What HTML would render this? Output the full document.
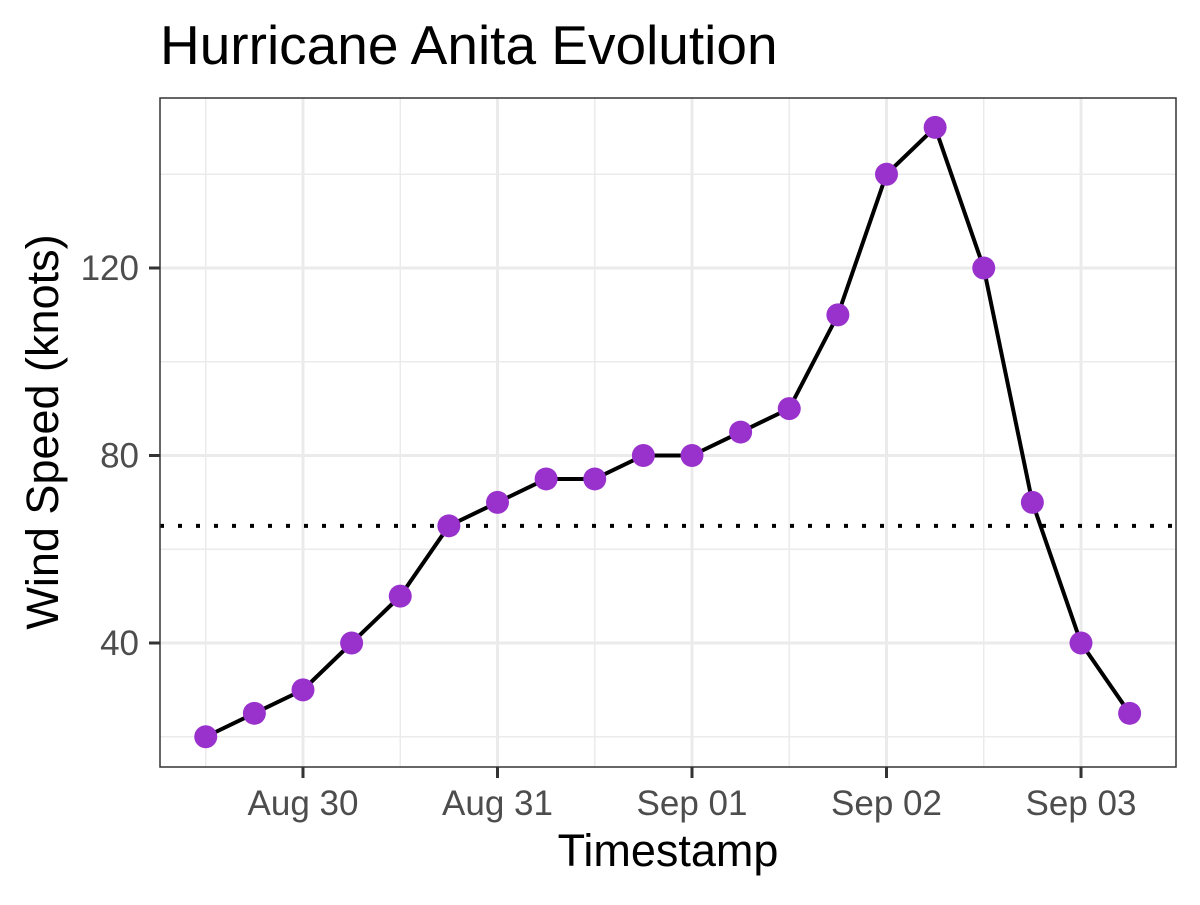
<!DOCTYPE html>
<html><head><meta charset="utf-8"><style>
body{margin:0;background:#fff;}
svg text{font-family:"Liberation Sans",Arial,sans-serif;}
</style></head><body>
<svg id="chart" width="1200" height="900" xmlns="http://www.w3.org/2000/svg">
<rect width="1200" height="900" fill="#fff"/>
<text x="160" y="64" font-size="55" fill="#000">Hurricane Anita Evolution</text>
<g id="grid"></g><g id="marks"></g><g id="axes"></g>
<text x="668" y="866" font-size="45" text-anchor="middle" fill="#000">Timestamp</text>
<text transform="translate(58,432) rotate(-90)" font-size="45" text-anchor="middle" fill="#000">Wind Speed (knots)</text>
</svg>
<script>
// hours since Aug 30 00:00, every 6h from Aug 29 12:00
const times=[-12,-6,0,6,12,18,24,30,36,42,48,54,60,66,72,78,84,90,96,102];
const speeds=[20,25,30,40,50,65,70,75,75,80,80,85,90,110,140,150,120,70,40,25];
const threshold=65;
const yTicks=[40,80,120];
const yMinor=[20,60,100,140];
const xTickHours=[0,24,48,72,96];
const xTickLabels=["Aug 30","Aug 31","Sep 01","Sep 02","Sep 03"];
const xMinorHours=[-12,12,36,60,84,108];

const L=160,R=1176,T=98,B=767;
const x=h=>303+h*(194.5/24);
const y=v=>643-(v-40)*4.6875;
const NS="http://www.w3.org/2000/svg";
function mk(tag,attrs,parent){const e=document.createElementNS(NS,tag);for(const k in attrs)e.setAttribute(k,attrs[k]);parent.appendChild(e);return e;}
const grid=document.getElementById('grid'),marks=document.getElementById('marks'),axes=document.getElementById('axes');
yMinor.forEach(v=>{const e=mk('line',{x1:L,x2:R,y1:y(v),y2:y(v),stroke:'#ebebeb','stroke-width':1.5},grid);

});
xMinorHours.forEach(h=>{if(x(h)<L||x(h)>R)return;const e=mk('line',{x1:x(h),x2:x(h),y1:T,y2:B,stroke:'#ebebeb','stroke-width':1.5},grid);

});
yTicks.forEach(v=>{const e=mk('line',{x1:L,x2:R,y1:y(v),y2:y(v),stroke:'#ebebeb','stroke-width':3},grid);


const t=mk('line',{x1:L-11,x2:L,y1:y(v),y2:y(v),stroke:'#333','stroke-width':3},axes);


const tx=mk('text',{x:L-21,y:y(v)+12,'font-size':35,'text-anchor':'end',fill:'#4d4d4d'},axes);tx.textContent=v;

});
xTickHours.forEach((h,i)=>{const e=mk('line',{x1:x(h),x2:x(h),y1:T,y2:B,stroke:'#ebebeb','stroke-width':3},grid);


const t=mk('line',{x1:x(h),x2:x(h),y1:B,y2:B+11,stroke:'#333','stroke-width':3},axes);


const tx=mk('text',{x:x(h),y:B+48,'font-size':35,'text-anchor':'middle',fill:'#4d4d4d'},axes);tx.textContent=xTickLabels[i];

});
const th=mk('line',{x1:L,x2:R,y1:y(threshold),y2:y(threshold),stroke:'#000','stroke-width':4,'stroke-dasharray':'4 14'},marks);


const pl=mk('polyline',{points:times.map((h,i)=>x(h)+','+y(speeds[i])).join(' '),fill:'none',stroke:'#000','stroke-width':4,'stroke-linejoin':'round'},marks);


times.forEach((h,i)=>{const c=mk('circle',{cx:x(h),cy:y(speeds[i]),r:11.5,fill:'#9932cc'},marks);

});
const fr=mk('rect',{x:L,y:T,width:R-L,height:B-T,fill:'none',stroke:'#333','stroke-width':1.5},axes);


</script>
</body></html>
